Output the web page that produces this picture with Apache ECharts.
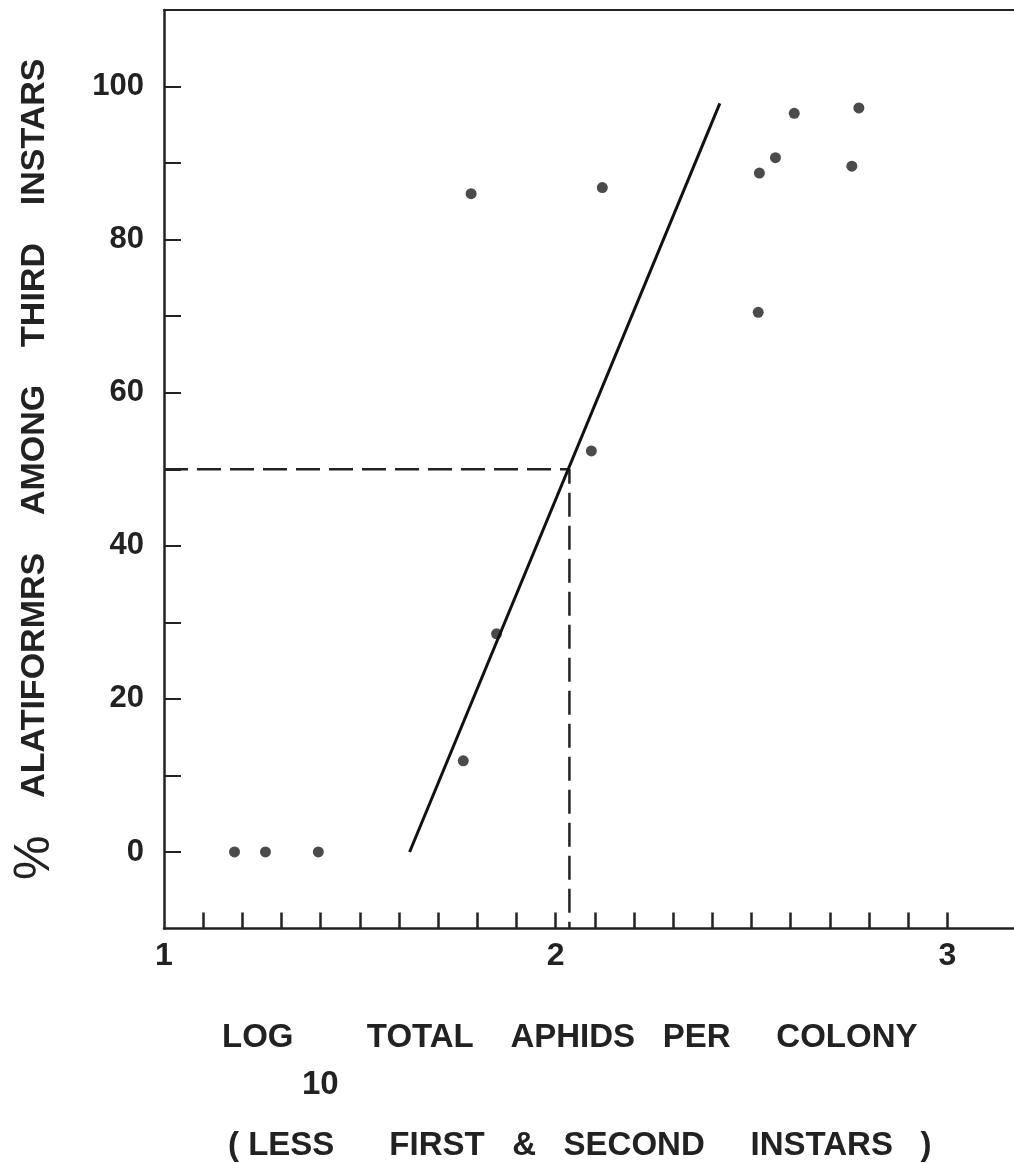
<!DOCTYPE html>
<html>
<head>
<meta charset="utf-8">
<script src="https://cdn.jsdelivr.net/npm/echarts@6/dist/echarts.min.js"></script>
<style>
  html, body { margin: 0; padding: 0; background: #fff; }
  #chart { width: 1014px; height: 1163px; }
</style>
</head>
<body>
<div id="chart"></div>
<script>
  // values
  var logAphids = [1.180, 1.259, 1.394, 1.764, 1.849, 1.784, 2.091, 2.119, 2.520, 2.517, 2.561, 2.609, 2.756, 2.774]
  var pctAlate = [0, 0, 0, 11.9, 28.5, 86.0, 52.4, 86.8, 88.7, 70.5, 90.7, 96.5, 89.6, 97.2]
  var fitStart = [1.627, 0]
  var fitEnd = [2.419, 97.8]
  var halfLevel = 50
  var halfLog = 2.035
  var xTickLabels = [1, 2, 3]
  var yTickLabels = [0, 20, 40, 60, 80, 100]

  var xMin = 1, xMax = 3.17
  var yMin = -10, yMax = 110

  var font = "'Liberation Sans', Arial, sans-serif"
  var ink = '#222'

  var points = []
  for (var i = 0; i < logAphids.length; i++) {
    points.push([logAphids[i], pctAlate[i]])
  }
  var guide = [[xMin, halfLevel], [halfLog, halfLevel], [halfLog, yMin]]

  // minor ticks: every 0.1 up to 3, every 10 from 0 to 100
  var xTicks = []
  for (var k = 1; k <= 20; k++) xTicks.push(1 + k / 10)
  var yTicks = []
  for (var m = 0; m <= 10; m++) yTicks.push(m * 10)

  var chart = echarts.init(document.getElementById('chart'))
  chart.setOption({
    backgroundColor: '#fff',
    animation: false,
    grid: {
      left: 164,
      top: 10,
      width: 850,
      height: 918.5
    },
    xAxis: [
      {
        type: 'value',
        position: 'bottom',
        min: xMin,
        max: xMax,
        interval: 0.1,
        splitLine: { show: false },
        axisLine: { onZero: false, lineStyle: { color: ink, width: 2.5 } },
        axisTick: { inside: true, length: 16, customValues: xTicks, lineStyle: { color: ink, width: 2.5 } },
        axisLabel: {
          margin: 12,
          color: ink,
          fontFamily: font,
          fontWeight: 'bold',
          fontSize: 32,
          customValues: xTickLabels
        }
      },
      {
        type: 'value',
        position: 'top',
        min: xMin,
        max: xMax,
        splitLine: { show: false },
        axisLine: { show: true, onZero: false, lineStyle: { color: ink, width: 2 } },
        axisTick: { show: false },
        axisLabel: { show: false }
      }
    ],
    yAxis: {
      type: 'value',
      min: yMin,
      max: yMax,
      interval: 10,
      splitLine: { show: false },
      axisLine: { onZero: false, lineStyle: { color: ink, width: 2.5 } },
      axisTick: { inside: true, length: 17, customValues: yTicks, lineStyle: { color: ink, width: 2 } },
      axisLabel: {
        margin: 20,
        color: ink,
        fontFamily: font,
        fontWeight: 'bold',
        fontSize: 31,
        customValues: yTickLabels
      },
      name: '{p|%}    ALATIFORMRS    AMONG    THIRD    INSTARS',
      nameLocation: 'middle',
      nameRotate: 90,
      nameGap: 104,
      nameTextStyle: {
        color: ink,
        fontFamily: font,
        fontWeight: 'bold',
        fontSize: 34,
        rich: {
          p: { fontFamily: font, fontSize: 50, fontWeight: 'normal', color: ink }
        }
      }
    },
    series: [
      {
        type: 'line',
        data: guide,
        symbol: 'none',
        silent: true,
        lineStyle: { color: ink, width: 2.5, type: [24, 9] }
      },
      {
        type: 'line',
        data: [fitStart, fitEnd],
        symbol: 'none',
        silent: true,
        lineStyle: { color: '#111', width: 3 }
      },
      {
        // white halo so the fitted line breaks round a dot, as in the print
        type: 'scatter',
        data: points,
        symbolSize: 26,
        silent: true,
        itemStyle: { color: '#fff' }
      },
      {
        type: 'scatter',
        data: points,
        symbolSize: 11,
        itemStyle: { color: '#1e1e1e' }
      }
    ],
    graphic: [
      {
        type: 'text',
        style: {
          text: 'LOG        TOTAL    APHIDS   PER     COLONY',
          x: 222, y: 1038,
          font: 'bold 33px ' + font,
          fill: ink,
          textVerticalAlign: 'middle'
        }
      },
      {
        type: 'text',
        style: {
          text: '10',
          x: 302, y: 1085,
          font: 'bold 33px ' + font,
          fill: ink,
          textVerticalAlign: 'middle'
        }
      },
      {
        type: 'text',
        style: {
          text: '( LESS      FIRST   &   SECOND     INSTARS   )',
          x: 228, y: 1146,
          font: 'bold 33px ' + font,
          fill: ink,
          textVerticalAlign: 'middle'
        }
      }
    ]
  })
</script>
</body>
</html>
